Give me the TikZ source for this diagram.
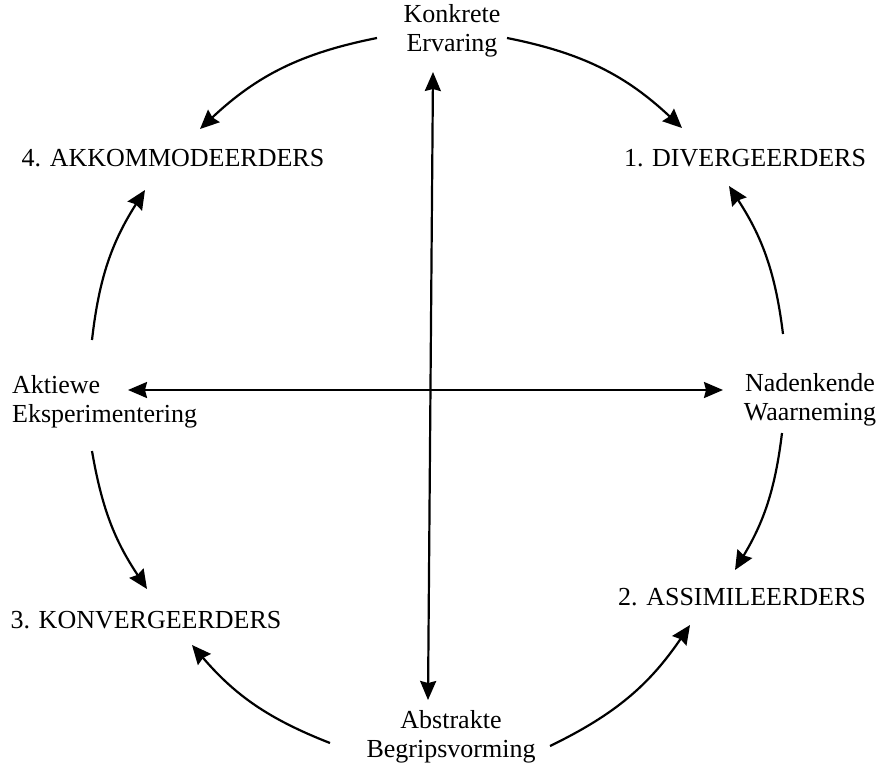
\documentclass[tikz,border=0pt]{standalone}
\usepackage{fontspec}
\setmainfont{Liberation Serif}
\usetikzlibrary{arrows.meta}
\begin{document}
\begin{tikzpicture}[x=1pt,y=-1pt,
  lbl/.style={inner sep=0pt,align=center,font=\fontsize{26}{29}\selectfont},
  tip/.style={},
  arr/.style={line width=2.2pt,-{Stealth[length=19pt,width=17pt,inset=2pt]}},
  darr/.style={line width=2.2pt,{Stealth[length=19pt,width=16pt,inset=2pt]}-{Stealth[length=19pt,width=16pt,inset=2pt]}}]
\useasboundingbox (0,0) rectangle (881,777);
\node[lbl] (KE) at (452,31) {Konkrete\\Ervaring};
\node[lbl] (A4) at (173,158) {4. AKKOMMODEERDERS};
\node[lbl] (D1) at (745,158) {1. DIVERGEERDERS};
\node[lbl,align=left,anchor=west] (AE) at (12,402) {Aktiewe\\Eksperimentering};
\node[lbl] (NW) at (810,400) {Nadenkende\\Waarneming};
\node[lbl] (K3) at (146,620) {3. KONVERGEERDERS};
\node[lbl] (A2) at (742,597) {2. ASSIMILEERDERS};
\node[lbl] (AB) at (451,737) {Abstrakte\\Begripsvorming};
% axis end points
\coordinate (vt) at (433,72);
\coordinate (vb) at (428,700);
\coordinate (hl) at (128,390);
\coordinate (hr) at (723,390);
\draw[darr] (vb) -- (vt);
\draw[darr] (hl) -- (hr);
% cycle end points
\coordinate (ke1) at (507,38);  \coordinate (d1a) at (682,128);
\coordinate (ke2) at (377,38);  \coordinate (a4a) at (200,129);
\coordinate (nw1) at (783,334); \coordinate (d1b) at (729,186);
\coordinate (nw2) at (782,433); \coordinate (a2a) at (735,570);
\coordinate (ab1) at (550,746); \coordinate (a2b) at (690,625);
\coordinate (ab2) at (330,743); \coordinate (k3a) at (192,645);
\coordinate (ae1) at (92,451);  \coordinate (k3b) at (147,589);
\coordinate (ae2) at (92,340);  \coordinate (a4b) at (145,190);
\draw[arr] (ke1) to[bend left=16] (d1a);
\draw[arr] (ke2) to[bend right=16] (a4a);
\draw[arr] (nw1) to[bend right=13] (d1b);
\draw[arr] (nw2) to[bend left=12] (a2a);
\draw[arr] (ab1) to[bend right=15] (a2b);
\draw[arr] (ab2) to[bend left=14] (k3a);
\draw[arr] (ae1) to[bend right=12] (k3b);
\draw[arr] (ae2) to[bend left=13] (a4b);
\end{tikzpicture}
\end{document}
